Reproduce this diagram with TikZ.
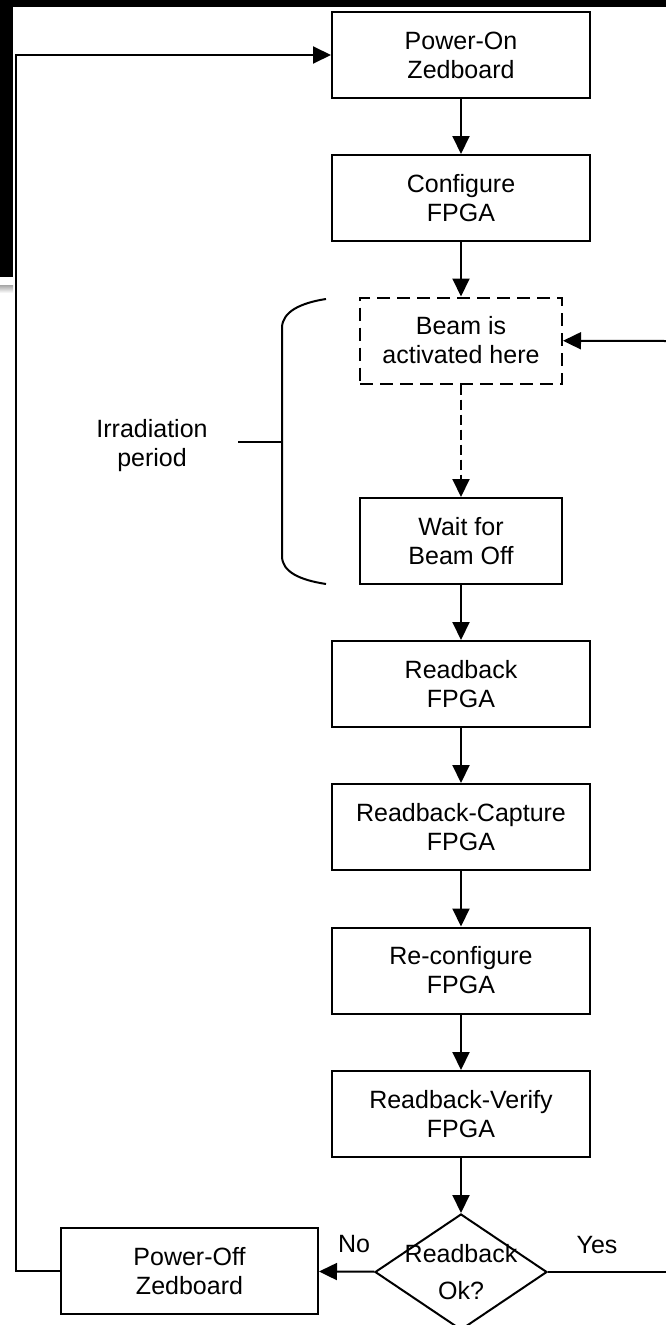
\documentclass[tikz,border=0pt]{standalone}
\usepackage{fontspec}
\setmainfont{Liberation Sans}
\usetikzlibrary{arrows.meta,shapes.geometric}

\begin{document}
\begin{tikzpicture}[x=1pt, y=-1pt, line width=2pt,
    box/.style={draw, minimum width=258pt, minimum height=86pt, inner sep=0pt,
      align=center, font=\fontsize{25}{29}\selectfont},
    narrowbox/.style={box, minimum width=202pt},
    decision/.style={draw, diamond, aspect=1.48, minimum width=172pt,
      minimum height=116pt, inner sep=0pt},
    txt/.style={align=center, font=\fontsize{25}{29}\selectfont},
    >={Triangle[length=18pt, width=17pt]}]
      \useasboundingbox (0,0) rectangle (666,1325);
      % edge of the screenshot
      \fill (0,0) rectangle (666,7);
      \fill (0,0) rectangle (13,277);
      \shade[top color=gray!70, bottom color=white, draw=none] (0,285) rectangle (13,293);
      \path
        (461,55) node[box] (on){Power-On\\Zedboard}
        (461,198) node[box] (cfg){Configure\\FPGA}
        (461,340.5) node[narrowbox, dash pattern=on 13pt off 7pt] (beam){Beam is\\activated here}
        (461,541) node[narrowbox] (wait){Wait for\\Beam Off}
        (461,684) node[box] (rb){Readback\\FPGA}
        (461,827) node[box] (cap){Readback-Capture\\FPGA}
        (461,970.5) node[box] (recfg){Re-configure\\FPGA}
        (461,1114) node[box] (ver){Readback-Verify\\FPGA}
        (461,1272) node[decision, label={[txt]center:Readback\\[8pt]Ok?}] (ok){}
        (189.5,1271) node[box, minimum width=257pt] (off){Power-Off\\Zedboard}
        (152,446) node[txt] (irr){Irradiation\\period}
        (354,1244) node[txt] (no){No}
        (597,1245) node[txt] (yes){Yes};
      \coordinate (yesend) at (666,1272);
      \coordinate (beamin) at (666,341);
      % irradiation bracket
      \draw (326,299) .. controls (300,303) and (282,312) .. (282,328) -- (282,556)
        .. controls (282,572) and (300,580) .. (326,584);
      \draw (238,442) -- (282,442);
      \begin{scope}[->]
        \draw (on) to (cfg);
        \draw (cfg) to (beam);
        \draw[dash pattern=on 10pt off 5pt] (beam) to (wait);
        \draw (wait) to (rb);
        \draw (rb) to (cap);
        \draw (cap) to (recfg);
        \draw (recfg) to (ver);
        \draw (ver) to (ok);
        \draw (ok) to (off);
        \draw (beamin) to (beam);
        \draw (off.west) -- ++(-44,0) |- (on.west);
      \end{scope}
      \draw (ok.east) -- (yesend);
    \end{tikzpicture}
\end{document}
